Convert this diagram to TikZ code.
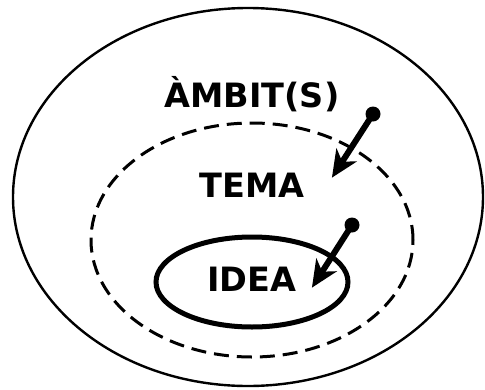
\documentclass[tikz,border=0pt]{standalone}
\usepackage{fontspec}
\setmainfont{DejaVu Sans}
\usetikzlibrary{arrows.meta}
\begin{document}
\begin{tikzpicture}[x=1pt,y=-1pt,
    label/.style={font=\fontsize{33.5}{38}\selectfont\bfseries, inner sep=0pt},
    pointer/.style={line width=6pt, -{Stealth[length=27pt,width=24pt,inset=8pt]}, shorten >=-2pt}]
   \useasboundingbox (0,0) rectangle (485,389);
   % ellipses
   \draw[line width=2.4pt] (248,197) ellipse [x radius=235pt, y radius=189pt];
   \draw[line width=3pt, dash pattern=on 15pt off 8pt] (252,240) ellipse [x radius=161pt, y radius=117pt];
   \draw[line width=5pt] (252,282) ellipse [x radius=96pt, y radius=45pt];
   % texts
   \node[label] (ambit) at (252,94) {ÀMBIT(S)};
   \node[label] (tema) at (252,185) {TEMA};
   \node[label] (idea) at (252,279) {IDEA};
   % arrows
   \coordinate (d1) at (373,114);
   \coordinate (t1) at (333,176);
   \coordinate (d2) at (352,225);
   \coordinate (t2) at (313,286);
   \fill (d1) circle (7.5pt);
   \fill (d2) circle (7.5pt);
   \draw[pointer] (d1) -- (t1);
   \draw[pointer] (d2) -- (t2);
\end{tikzpicture}
\end{document}
